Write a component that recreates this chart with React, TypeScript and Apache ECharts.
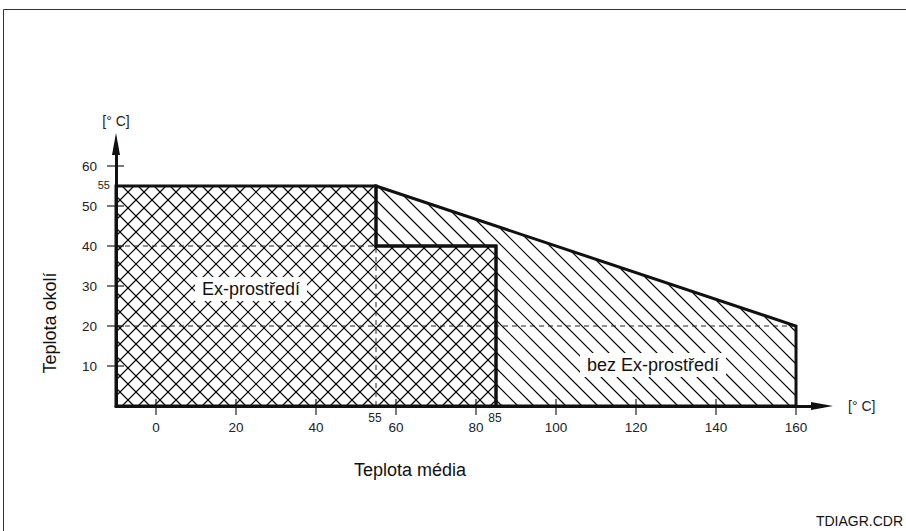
import React, { useEffect, useRef } from 'react';
import * as echarts from 'echarts';

// ---- data ----
const xTicks = [0, 20, 40, 60, 80, 100, 120, 140, 160];
const yTicks = [10, 20, 30, 40, 50, 60];
const xExtraLabels = [55, 85];
const yExtraLabels = [55];
const exZone: number[][] = [[-10, 0], [-10, 55], [55, 55], [55, 40], [85, 40], [85, 0]];
const nonExZone: number[][] = [[55, 55], [160, 20], [160, 0], [85, 0], [85, 40], [55, 40]];
const guideLines: number[][][] = [
  [[-10, 20], [160, 20]],
  [[-10, 40], [55, 40]],
  [[55, 0], [55, 40]],
];
const zoneLabels = [
  { text: 'Ex-prostředí', at: [23.75, 29.25] },
  { text: 'bez Ex-prostředí', at: [124.25, 10.25] },
];
const axisUnit = '[° C]';
const xName = 'Teplota média';
const yName = 'Teplota okolí';
const fileTag = 'TDIAGR.CDR';

const FONT = '"Liberation Sans", Arial, sans-serif';
const INK = '#111';

function hatch(pts: number[][], s: number, sp: number, style: any) {
  const g = (p: number[]) => p[1] - s * p[0];
  const vals = pts.map(g);
  const lo = Math.min(...vals);
  const hi = Math.max(...vals);
  const out: any[] = [];
  for (let c = Math.ceil(lo / sp) * sp; c <= hi; c += sp) {
    const xs: number[][] = [];
    for (let i = 0; i < pts.length; i++) {
      const a = pts[i];
      const b = pts[(i + 1) % pts.length];
      const ga = g(a) - c;
      const gb = g(b) - c;
      if ((ga < 0) !== (gb < 0)) {
        const t = ga / (ga - gb);
        xs.push([a[0] + t * (b[0] - a[0]), a[1] + t * (b[1] - a[1])]);
      }
    }
    xs.sort((p, q) => p[0] - q[0]);
    for (let k = 0; k + 1 < xs.length; k += 2) {
      out.push({
        type: 'line',
        silent: true,
        shape: { x1: xs[k][0], y1: xs[k][1], x2: xs[k + 1][0], y2: xs[k + 1][1] },
        style,
      });
    }
  }
  return out;
}

export default function App() {
  const ref = useRef<HTMLDivElement>(null);
  useEffect(() => {
    if (!ref.current) return;
    const chart = echarts.init(ref.current, undefined, { renderer: 'svg' });

    const renderItem = (_params: any, api: any) => {
      const c = (p: number[]) => api.coord(p);
      const children: any[] = [];
      const hatchStyle = { stroke: '#000', lineWidth: 1.1 };
      const exPx = exZone.map(c);
      const nonPx = nonExZone.map(c);
      // hatching
      children.push(...hatch(exPx, 1, 16, hatchStyle));
      children.push(...hatch(exPx, -1, 16, hatchStyle));
      children.push(...hatch(nonPx, 1, 16, hatchStyle));
      // dashed guide lines
      guideLines.forEach((ln) => {
        const a = c(ln[0]);
        const b = c(ln[1]);
        children.push({
          type: 'line',
          silent: true,
          shape: { x1: a[0], y1: a[1], x2: b[0], y2: b[1] },
          style: { stroke: '#222', lineWidth: 1, lineDash: [5, 4] },
        });
      });
      // outlines
      [exPx, nonPx].forEach((pts) => {
        children.push({
          type: 'polygon',
          silent: true,
          shape: { points: pts },
          style: { fill: 'none', stroke: INK, lineWidth: 3, lineJoin: 'miter' },
        });
      });
      // ticks crossing the axes
      xTicks.forEach((v) => {
        const p = c([v, 0]);
        children.push({
          type: 'line', silent: true,
          shape: { x1: p[0], y1: p[1] - 7, x2: p[0], y2: p[1] + 9 },
          style: { stroke: '#222', lineWidth: 1.2 },
        });
      });
      yTicks.forEach((v) => {
        const p = c([-10, v]);
        children.push({
          type: 'line', silent: true,
          shape: { x1: p[0] - 9, y1: p[1], x2: p[0] + 8, y2: p[1] },
          style: { stroke: '#222', lineWidth: 1.2 },
        });
      });
      // extra small labels
      xExtraLabels.forEach((v) => {
        const p = c([v, 0]);
        children.push({
          type: 'text', silent: true, x: p[0] - 1, y: p[1] + 12,
          style: { text: String(v), fontSize: 12, fontFamily: FONT, fill: '#222', align: 'center', verticalAlign: 'middle' },
        });
      });
      yExtraLabels.forEach((v) => {
        const p = c([-10, v]);
        children.push({
          type: 'text', silent: true, x: p[0] - 6, y: p[1] - 1,
          style: { text: String(v), fontSize: 11, fontFamily: FONT, fill: '#222', align: 'right', verticalAlign: 'middle' },
        });
      });
      // zone labels
      zoneLabels.forEach((z) => {
        const p = c(z.at);
        children.push({
          type: 'text', silent: true, x: p[0], y: p[1],
          style: {
            text: z.text, fontSize: 18, fontFamily: FONT, fill: INK,
            align: 'center', verticalAlign: 'middle',
            backgroundColor: '#fff', padding: [3, 7],
          },
        });
      });
      return { type: 'group', children };
    };

    const labelStyle = { fontSize: 13.5, fontFamily: FONT, color: '#222' };

    chart.setOption({
      animation: false,
      backgroundColor: '#fff',
      grid: { left: 116, top: 144, width: 706, height: 262, containLabel: false, outerBoundsMode: 'none' },
      xAxis: {
        type: 'value',
        min: -10,
        max: 166.5,
        z: 5,
        name: axisUnit,
        nameLocation: 'end',
        nameGap: 26,
        nameTextStyle: { fontSize: 14, fontFamily: FONT, color: '#222' },
        axisLine: { show: true, onZero: false, symbol: ['none', 'triangle'], symbolSize: [8, 22], lineStyle: { color: INK, width: 3 } },
        axisTick: { show: false },
        axisLabel: { ...labelStyle, margin: 14, customValues: xTicks },
        splitLine: { show: false },
      },
      yAxis: {
        type: 'value',
        min: 0,
        max: 65.5,
        z: 5,
        name: axisUnit,
        nameLocation: 'end',
        nameGap: 16,
        nameTextStyle: { fontSize: 14, fontFamily: FONT, color: '#222', align: 'center' },
        axisLine: { show: true, onZero: false, symbol: ['none', 'triangle'], symbolSize: [8, 22], lineStyle: { color: INK, width: 3 } },
        axisTick: { show: false },
        axisLabel: { ...labelStyle, margin: 19, customValues: yTicks },
        splitLine: { show: false },
      },
      graphic: [
        {
          type: 'rect', silent: true, z: 0,
          shape: { x: 3.5, y: 9.5, width: 1000, height: 1000 },
          style: { fill: 'none', stroke: '#333', lineWidth: 1 },
        },
        {
          type: 'text', x: 410, y: 470,
          style: { text: xName, fontSize: 18, fontFamily: FONT, fill: INK, align: 'center', verticalAlign: 'middle' },
        },
        {
          type: 'text', x: 50, y: 323, rotation: Math.PI / 2,
          style: { text: yName, fontSize: 18, fontFamily: FONT, fill: INK, align: 'center', verticalAlign: 'middle' },
        },
        {
          type: 'text', x: 903, y: 521,
          style: { text: fileTag, fontSize: 14, fontFamily: FONT, fill: INK, align: 'right', verticalAlign: 'middle' },
        },
      ],
      series: [
        {
          type: 'custom',
          coordinateSystem: 'cartesian2d',
          clip: false,
          z: 2,
          data: [[0, 0]],
          renderItem,
        },
      ],
    });
    return () => chart.dispose();
  }, []);
  return <div ref={ref} style={{ position: 'absolute', left: 0, top: 0, width: 906, height: 531 }} />;
}
